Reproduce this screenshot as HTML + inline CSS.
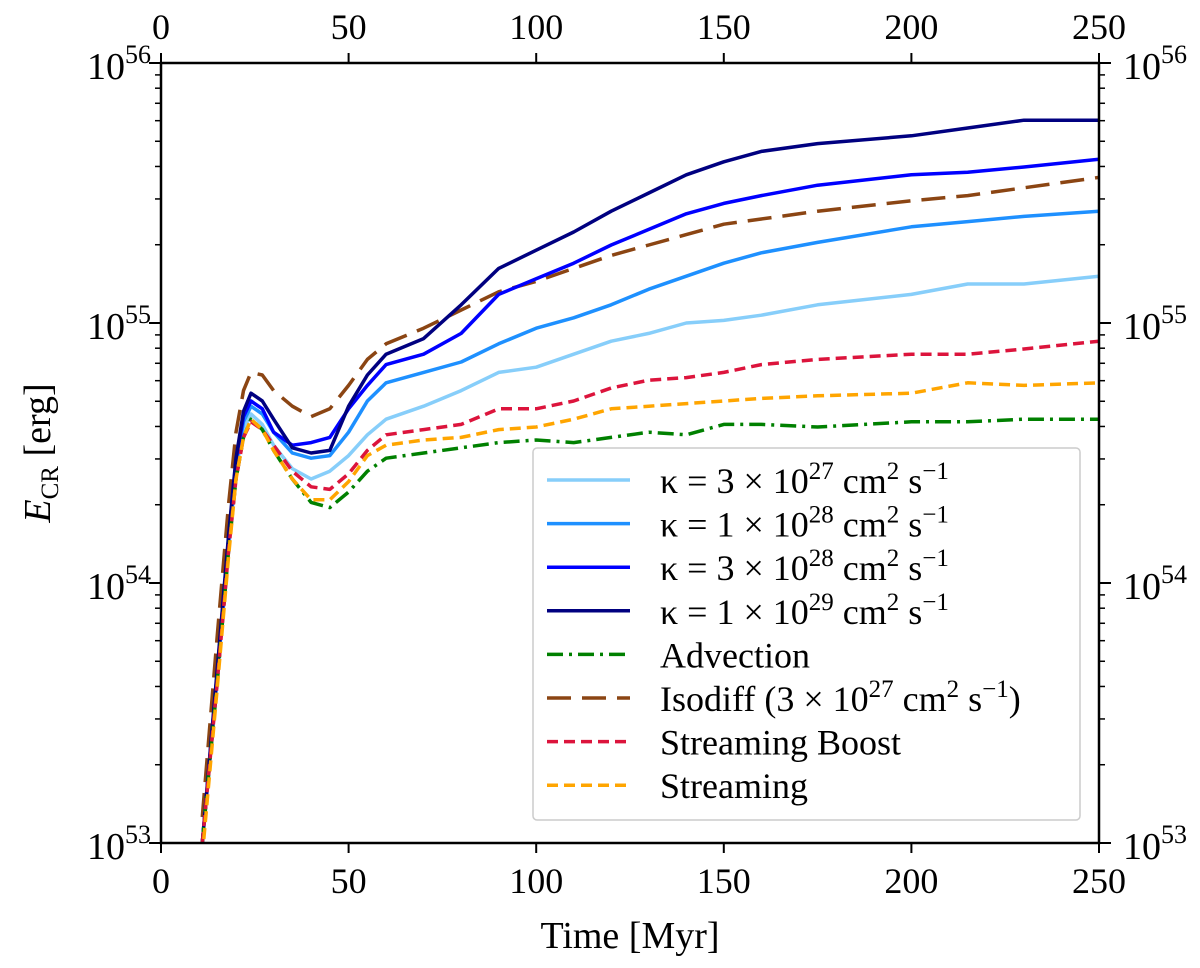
<!DOCTYPE html>
<html><head><meta charset="utf-8"><style>
body{margin:0;background:#fff;}
svg text{font-family:"Liberation Serif",serif;fill:#000;}
</style></head><body>
<svg id="chart" width="1200" height="963" viewBox="0 0 1200 963" xmlns="http://www.w3.org/2000/svg">
<g id="series"></g>
<rect x="161" y="63" width="938" height="780" fill="none" stroke="#000" stroke-width="2.5"/>
<g id="axes"></g>
<text x="630" y="948" font-size="38" text-anchor="middle">Time [Myr]</text>
<text transform="translate(50,453) rotate(-90)" font-size="38" text-anchor="middle"><tspan font-style="italic">E</tspan><tspan font-size="25" dy="8">CR</tspan><tspan dy="-8"> [erg]</tspan></text>
<g>
<rect x="533" y="448" width="547" height="372" rx="4" fill="#fff" stroke="#ccc" stroke-width="1.5"/>
<g id="legend-items"></g>
</g>
</svg>
<script>
const times=[11,15,18,20,22,24,27,30,35,40,45,50,55,60,70,80,90,100,110,120,130,140,150,160,175,200,215,230,250];
const kappa3e27=[53.0,53.63,54.13,54.43,54.59,54.65,54.61,54.53,54.44,54.40,54.43,54.49,54.57,54.63,54.68,54.74,54.81,54.83,54.88,54.93,54.96,55.00,55.01,55.03,55.07,55.11,55.15,55.15,55.18];
const kappa1e28=[53.0,53.65,54.15,54.45,54.62,54.68,54.65,54.58,54.50,54.48,54.49,54.58,54.70,54.77,54.81,54.85,54.92,54.98,55.02,55.07,55.13,55.18,55.23,55.27,55.31,55.37,55.39,55.41,55.43];
const kappa3e28=[53.0,53.66,54.17,54.47,54.64,54.70,54.67,54.58,54.53,54.54,54.56,54.67,54.76,54.84,54.88,54.96,55.11,55.17,55.23,55.30,55.36,55.42,55.46,55.49,55.53,55.57,55.58,55.60,55.63];
const kappa1e29=[53.0,53.67,54.18,54.48,54.66,54.73,54.70,54.63,54.52,54.50,54.51,54.68,54.80,54.88,54.94,55.07,55.21,55.28,55.35,55.43,55.50,55.57,55.62,55.66,55.69,55.72,55.75,55.78,55.78];
const advection=[53.0,53.62,54.12,54.40,54.56,54.63,54.59,54.51,54.40,54.31,54.29,54.35,54.43,54.48,54.50,54.52,54.54,54.55,54.54,54.56,54.58,54.57,54.61,54.61,54.60,54.62,54.62,54.63,54.63];
const isodiff=[53.1,53.8,54.3,54.58,54.74,54.81,54.80,54.74,54.68,54.64,54.67,54.76,54.86,54.92,54.98,55.05,55.12,55.16,55.21,55.26,55.30,55.34,55.38,55.40,55.43,55.47,55.49,55.52,55.56];
const streamBoost=[53.0,53.62,54.12,54.40,54.56,54.62,54.59,54.53,54.43,54.37,54.36,54.42,54.51,54.57,54.59,54.61,54.67,54.67,54.70,54.75,54.78,54.79,54.81,54.84,54.86,54.88,54.88,54.90,54.93];
const streaming=[52.95,53.6,54.1,54.40,54.56,54.63,54.59,54.51,54.40,54.32,54.32,54.39,54.49,54.53,54.55,54.56,54.59,54.60,54.63,54.67,54.68,54.69,54.70,54.71,54.72,54.73,54.77,54.76,54.77];
const xTicks=[0,50,100,150,200,250];
const yTicks=[53,54,55,56];
const sup=(s)=>'<tspan dy="-14" font-size="25">'+s+'</tspan><tspan dy="14"> </tspan>';
const kap=(a,e)=>'κ = '+a+' × 10'+sup(e)+'cm'+sup('2')+'s'+sup('−1');
const legendLabels=[kap('3','27'),kap('1','28'),kap('3','28'),kap('1','29'),'Advection',
'Isodiff (3 × 10'+sup('27')+'cm'+sup('2')+'s'+'<tspan dy="-14" font-size="25">−1</tspan><tspan dy="14">)</tspan>',
'Streaming Boost','Streaming'];
const NS='http://www.w3.org/2000/svg';
const L=161,R=1099,T=63,B=843;
function sx(t){return L+(t/250)*(R-L);}
function sy(v){return B-(v-53)/3*(B-T);}
const styles=[
 {d:kappa3e27,c:'#87cefa',dash:'',n:'kappa-3e27'},
 {d:kappa1e28,c:'#1e90ff',dash:'',n:'kappa-1e28'},
 {d:kappa3e28,c:'#0000ff',dash:'',n:'kappa-3e28'},
 {d:kappa1e29,c:'#000080',dash:'',n:'kappa-1e29'},
 {d:advection,c:'#008000',dash:'16,6,3,6',n:'advection'},
 {d:isodiff,c:'#8b4513',dash:'24,11',n:'isodiff'},
 {d:streamBoost,c:'#dc143c',dash:'11,6',n:'streaming-boost'},
 {d:streaming,c:'#ffa500',dash:'11,6',n:'streaming'}];
const drawOrder=[5,0,1,2,3,4,6,7];
const sg=document.getElementById('series');
const clip=document.createElementNS(NS,'clipPath');clip.setAttribute('id','cp');
const cr=document.createElementNS(NS,'rect');cr.setAttribute('x',L);cr.setAttribute('y',T);cr.setAttribute('width',R-L);cr.setAttribute('height',B-T);
clip.appendChild(cr);sg.appendChild(clip);
drawOrder.forEach(i=>{const s=styles[i];
 const p=document.createElementNS(NS,'path');
 p.setAttribute('d',s.d.map((v,k)=>(k?'L':'M')+sx(times[k]).toFixed(1)+','+sy(v).toFixed(1)).join(''));
 p.setAttribute('fill','none');p.setAttribute('stroke',s.c);p.setAttribute('stroke-width','3.5');
 p.setAttribute('stroke-linejoin','round');
 if(s.dash)p.setAttribute('stroke-dasharray',s.dash);
 p.setAttribute('clip-path','url(#cp)');
 
 
 sg.appendChild(p);});
const ag=document.getElementById('axes');
function line(x1,y1,x2,y2,w,name){const l=document.createElementNS(NS,'line');l.setAttribute('x1',x1);l.setAttribute('y1',y1);l.setAttribute('x2',x2);l.setAttribute('y2',y2);l.setAttribute('stroke','#000');l.setAttribute('stroke-width',w);
 
 
 ag.appendChild(l);}
function text(x,y,html,anchor,name,fs){const t=document.createElementNS(NS,'text');t.setAttribute('x',x);t.setAttribute('y',y);t.setAttribute('font-size',fs||'36');t.setAttribute('text-anchor',anchor);t.innerHTML=html;
 
 
 ag.appendChild(t);}
xTicks.forEach(t=>{const x=sx(t);
 line(x,B,x,B+10,2,'x-tick');line(x,T,x,T-10,2,'x-tick-top');
 text(x,B+50,String(t),'middle','x-tick-label');text(x,T-24,String(t),'middle','x-tick-label-top');});
yTicks.forEach(v=>{const y=sy(v);
 line(L,y,L-12,y,2,'y-tick');line(R,y,R+12,y,2,'y-tick-right');
 const lab='10<tspan dy="-16" font-size="26">'+v+'</tspan>';
 text(L-42,y+16,lab,'middle','y-tick-label','38');text(R+56,y+16,lab,'middle','y-tick-label-right','38');
 if(v<56)for(let m=2;m<10;m++){const yy=sy(v+Math.log10(m));line(L,yy,L-6,yy,1.5,'y-minor-tick');line(R,yy,R+6,yy,1.5,'y-minor-tick-right');}});
const lg=document.getElementById('legend-items');
styles.forEach((s,i)=>{const y=480+i*43.6;
 const l=document.createElementNS(NS,'line');l.setAttribute('x1',547);l.setAttribute('x2',630);l.setAttribute('y1',y);l.setAttribute('y2',y);l.setAttribute('stroke',s.c);l.setAttribute('stroke-width','3.5');if(s.dash)l.setAttribute('stroke-dasharray',s.dash);
 
 
 lg.appendChild(l);
 const t=document.createElementNS(NS,'text');t.setAttribute('x',660);t.setAttribute('y',y+13);t.setAttribute('font-size','36');t.innerHTML=legendLabels[i];
 
 
 lg.appendChild(t);});
</script>
</body></html>
